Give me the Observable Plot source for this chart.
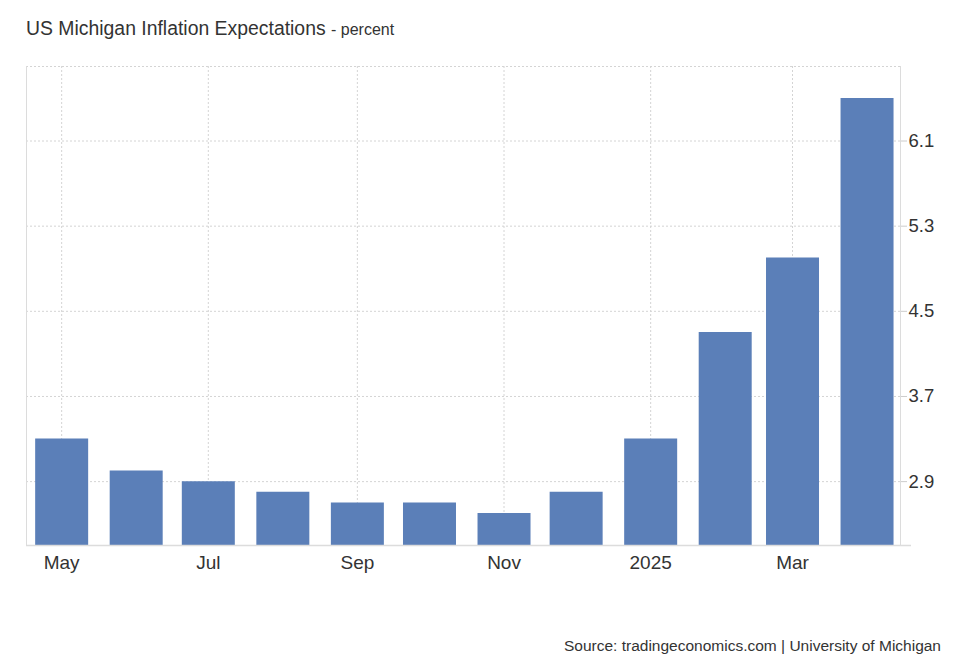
<!DOCTYPE html>
<html>
<head>
<meta charset="utf-8">
<script src="https://cdn.jsdelivr.net/npm/d3@7"></script>
<script src="https://cdn.jsdelivr.net/npm/@observablehq/plot@0.6"></script>
<style>
  body { margin: 0; background: #fff; font-family: Arial, "Liberation Sans", sans-serif; }
  #wrap { position: relative; width: 968px; height: 670px; }
  #title { position: absolute; left: 26px; top: 19px; font-size: 19.4px; line-height: 1; color: #333; white-space: nowrap; }
  #title span { font-size: 16px; }
  #chart { position: absolute; left: 0; top: 50px; }
  #source { position: absolute; right: 27px; top: 638px; font-size: 15.5px; line-height: 1; color: #333; white-space: nowrap; }
</style>
</head>
<body>
<div id="wrap">
  <div id="title">US Michigan Inflation Expectations <span>- percent</span></div>
  <div id="chart"></div>
  <div id="source">Source: tradingeconomics.com | University of Michigan</div>
</div>
<script>
// monthly readings, May 2024 - Apr 2025
const months = ["2024-05-01", "2024-06-01", "2024-07-01", "2024-08-01", "2024-09-01", "2024-10-01",
                "2024-11-01", "2024-12-01", "2025-01-01", "2025-02-01", "2025-03-01", "2025-04-01"];
const values = [3.3, 3.0, 2.9, 2.8, 2.7, 2.7, 2.6, 2.8, 3.3, 4.3, 5.0, 6.5];

const xTickDates = ["2024-05-01", "2024-07-01", "2024-09-01", "2024-11-01", "2025-01-01", "2025-03-01"];
const xTickLabels = ["May", "Jul", "Sep", "Nov", "2025", "Mar"];
const yTicks = [2.9, 3.7, 4.5, 5.3, 6.1];

const xDomain = [new Date(Date.UTC(2024, 3, 16, 9)), new Date(Date.UTC(2025, 3, 14, 22))];
const yDomain = [2.3, 6.8];

const data = months.map((m, i) => ({ date: new Date(m), value: values[i] }));
const tickDates = xTickDates.map(d => new Date(d));

let chart = Plot.plot({
    width: 968,
    height: 550,
    marginTop: 16,
    marginBottom: 55,
    marginLeft: 26,
    marginRight: 68,
    x: { type: "utc", domain: xDomain },
    y: { domain: yDomain },
    style: {
        fontFamily: "Arial, 'Liberation Sans', sans-serif",
        color: "#333",
        background: "#fff"
    },
    marks: [
        Plot.gridX(tickDates, { stroke: "#d4d4d4", strokeOpacity: 1, strokeDasharray: "2,2" }),
        Plot.gridY([...yTicks, yDomain[1]], { stroke: "#d4d4d4", strokeOpacity: 1, strokeDasharray: "2,2" }),

        Plot.ruleX(data, {
            x: "date",
            y1: yDomain[0],
            y2: "value",
            stroke: "#5b7fb8",
            strokeWidth: 53
        }),

        Plot.ruleX([xDomain[0], xDomain[1]], { stroke: "#dcdcdc" }),
        Plot.ruleY([yDomain[0]], { stroke: "#dcdcdc", strokeWidth: 1.5, insetRight: -11 }),

        Plot.axisX(tickDates, {
            tickSize: 0,
            tickPadding: 10,
            fontSize: 19,
            fill: "#333",
            label: null,
            tickFormat: d => xTickLabels[tickDates.findIndex(t => +t === +d)]
        }),
        Plot.axisY(yTicks, {
            anchor: "right",
            tickSize: 6,
            tickPadding: 2,
            fontSize: 18.5,
            stroke: "#ccc",
            fill: "#333",
            label: null,
            tickFormat: d => d.toFixed(1)
        })
    ]
});

d3.select("#chart").append(() => chart);
</script>
</body>
</html>
